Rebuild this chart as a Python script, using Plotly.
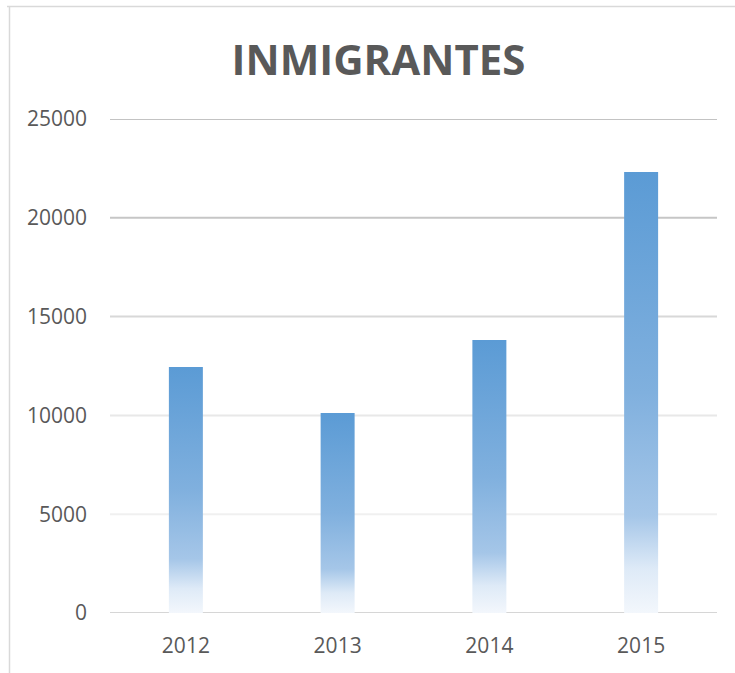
import plotly.graph_objects as go

# Annual immigrant counts
years = ["2012", "2013", "2014", "2015"]
inmigrantes = [12450, 10120, 13810, 22320]

y_ticks = [0, 5000, 10000, 15000, 20000, 25000]
y_tick_text = ["0", "5000", "10000", "15000", "20000", "25000"]

BAR_HALF = 0.112          # half bar width, in category units
TEXT = "#595959"

# Gridline shade per tick value (fades toward the base)
grid_colors = ["#d6d6d6", "#f0f0f0", "#e8e8e8", "#d8d8d8", "#c6c6c6", "#c3c3c3"]

# Bottom-to-top fill: near white at the base, solid blue at the top
gradient = [
    [0.00, "rgb(243,247,252)"],
    [0.10, "rgb(222,234,247)"],
    [0.22, "rgb(165,198,232)"],
    [0.50, "rgb(128,176,222)"],
    [1.00, "rgb(91,155,213)"],
]

fig = go.Figure()
for i, (yr, v) in enumerate(zip(years, inmigrantes)):
    fig.add_trace(go.Scatter(
        x=[i - BAR_HALF, i + BAR_HALF, i + BAR_HALF, i - BAR_HALF, i - BAR_HALF],
        y=[0, 0, v, v, 0],
        mode="lines",
        line=dict(width=0, color="rgba(0,0,0,0)"),
        fill="toself",
        fillgradient=dict(type="vertical", colorscale=gradient),
        name=yr,
        hoverinfo="text",
        text=f"{yr}: {v}",
        showlegend=False,
    ))

W, H = 735, 673
ml, mr, mt, mb = 110, 18, 119, 60
pw, ph = W - ml - mr, H - mt - mb

def px_x(p):
    return (p - ml) / pw

def px_y(p):
    return 1 + (mt - p) / ph

shapes = [
    dict(type="line", xref="paper", yref="y", layer="below",
         x0=0, x1=1, y0=t, y1=t, line=dict(color=c, width=2))
    for t, c in zip(y_ticks, grid_colors)
]
shapes += [
    # chart frame: top and left edges
    dict(type="line", xref="paper", yref="paper",
         x0=px_x(7), x1=px_x(735), y0=px_y(6.5), y1=px_y(6.5),
         line=dict(color="#d9d9d9", width=1.5)),
    dict(type="line", xref="paper", yref="paper",
         x0=px_x(9.5), x1=px_x(9.5), y0=px_y(6), y1=px_y(673),
         line=dict(color="#d9d9d9", width=1.5)),
]

fig.update_layout(
    width=W, height=H,
    margin=dict(l=ml, r=mr, t=mt, b=mb, pad=0),
    paper_bgcolor="white",
    plot_bgcolor="white",
    font=dict(family="Open Sans", color=TEXT, size=21),
    title=dict(
        text="<b>INMIGRANTES</b>",
        font=dict(family="Open Sans", size=42, color=TEXT),
        x=378.5 / W, xanchor="center", xref="container",
        y=1 - 60 / H, yanchor="middle", yref="container",
    ),
    xaxis=dict(
        range=[-0.5, 3.5],
        tickmode="array", tickvals=list(range(len(years))), ticktext=years,
        showgrid=False, zeroline=False, showline=False,
        ticks="", ticklabelstandoff=18,
        tickfont=dict(size=21, color=TEXT),
        fixedrange=True,
    ),
    yaxis=dict(
        range=[0, 25000],
        tickmode="array", tickvals=y_ticks, ticktext=y_tick_text,
        showgrid=False, zeroline=False,
        showline=False, ticks="", ticklabelstandoff=22,
        tickfont=dict(size=21, color=TEXT),
        fixedrange=True,
    ),
    shapes=shapes,
)

fig.write_html("out.html")
